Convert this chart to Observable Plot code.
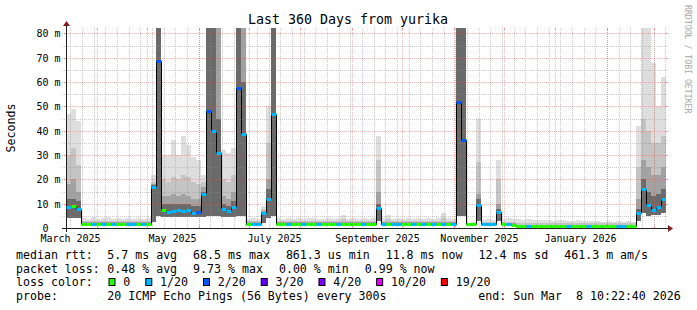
<!DOCTYPE html>
<html><head><meta charset="utf-8">
<script src="https://cdn.jsdelivr.net/npm/d3@7"></script>
<script src="https://cdn.jsdelivr.net/npm/@observablehq/plot@0.6"></script>
<style>
html,body{margin:0;padding:0;background:#fff;}
#chart{width:697px;height:310px;position:relative;}
svg text{white-space:pre;}
</style></head><body><div id="chart"></div>
<script>
// ---------- data ----------
const chartTitle = "Last 360 Days from yurika";
const yTitle = "Seconds";
const watermark = "RRDTOOL / TOBI OETIKER";
const startTime = new Date(Date.UTC(2025, 2, 13, 10, 22, 40));
const endTime = new Date(Date.UTC(2026, 2, 8, 10, 22, 40));
const stepDays = 3;
const yMax = 82.26;

const median = [
  8.8, 9.2, 8.0, 1.8, 1.8, 1.7, 1.8, 1.8, 1.7, 1.8,
  1.8, 1.7, 1.8, 1.8, 1.7, 1.8, 1.8, 17, 68.5, 7.4,
  6.5, 7.0, 7.3, 6.8, 7.4, 6.2, 6.5, 14, 48, 40,
  31, 8.0, 6.8, 8.5, 57.7, 38.7, 1.8, 1.7, 1.7, 6.0,
  12, 47, 1.8, 1.8, 1.7, 1.8, 1.8, 1.7, 1.8, 1.8,
  1.7, 1.8, 1.8, 1.8, 1.7, 1.8, 1.8, 1.8, 1.8, 1.7,
  1.8, 1.8, 8.2, 1.7, 1.8, 1.7, 1.7, 1.8, 1.8, 1.7,
  1.8, 1.7, 1.8, 1.7, 1.8, 1.7, 1.8, 1.7, 52, 36,
  1.6, 1.6, 9.5, 1.6, 1.6, 1.6, 6.6, 1.5, 1.5, 1.4,
  0.8, 0.8, 0.8, 0.8, 0.8, 0.8, 0.8, 0.8, 0.8, 0.8,
  0.8, 0.8, 0.8, 0.8, 0.8, 0.8, 0.8, 0.8, 0.8, 0.8,
  0.8, 0.8, 0.8, 0.8, 6.0, 16, 9.5, 7.3, 8.5, 12
];
const loss = [
  1,0,1,0,0,1,0,1,0,1,
  0,0,1,1,0,1,0,1,2,0,
  1,1,1,1,1,1,2,1,2,1,
  1,1,1,1,2,1,0,1,1,1,
  1,1,0,0,1,0,0,1,0,0,
  1,0,0,0,1,0,0,0,0,1,
  0,0,1,1,0,1,1,0,0,1,
  0,1,0,1,0,1,0,1,2,2,
  0,0,1,1,1,1,1,0,1,0,
  0,0,1,0,0,0,0,0,0,0,
  1,0,0,0,1,0,0,0,0,0,
  1,1,0,0,1,1,1,1,1,1
];
const smokeLo = [
  4, 4, 4, 1.3, 1.3, 1.3, 1.3, 1.3, 1.3, 1.3,
  1.3, 1.3, 1.3, 1.3, 1.3, 1.3, 1.3, 2.5, 5, 4.5,
  4.5, 4.5, 4.5, 4.5, 4.5, 4.5, 4.5, 4.5, 5, 5,
  5, 4.5, 4.5, 4.5, 5, 5, 1.3, 1.3, 1.3, 2.0,
  4, 5, 1.3, 1.3, 1.3, 1.3, 1.3, 1.3, 1.3, 1.3,
  1.3, 1.3, 1.3, 1.3, 1.3, 1.3, 1.3, 1.3, 1.3, 1.3,
  1.3, 1.3, 3, 1.3, 1.3, 1.3, 1.3, 1.3, 1.3, 1.3,
  1.3, 1.3, 1.3, 1.3, 1.3, 1.3, 1.3, 1.3, 5, 5,
  1.2, 1.2, 3, 1.2, 1.2, 1.2, 3, 1.1, 1.1, 1.0,
  0.5, 0.5, 0.5, 0.5, 0.5, 0.5, 0.5, 0.5, 0.5, 0.5,
  0.5, 0.5, 0.5, 0.5, 0.5, 0.5, 0.5, 0.5, 0.5, 0.5,
  0.5, 0.5, 0.5, 0.5, 3, 6, 5, 5.5, 5.5, 6
];
const smokeMax = [
  47, 49, 44, 4.2, 3.6, 4.4, 3.8, 4.0, 4.5, 3.8,
  4.2, 3.7, 4.3, 3.9, 4.1, 3.8, 4.0, 22, 100, 30,
  30, 36, 30, 38, 34, 29, 28, 22, 100, 100,
  100, 32, 31, 33, 100, 100, 3.8, 4.0, 3.6, 9,
  50, 100, 4.0, 3.7, 4.2, 3.9, 4.1, 3.6, 4.0, 4.3,
  3.8, 3.9, 4.2, 3.7, 4.0, 5.3, 3.9, 4.1, 3.8, 4.2,
  3.9, 4.0, 38, 4.0, 5.3, 3.8, 4.1, 3.9, 4.2, 3.7,
  4.0, 3.8, 4.2, 3.9, 4.0, 6.3, 4.1, 3.9, 100, 100,
  2.2, 2.4, 45, 3.2, 3.6, 3.4, 28, 3.8, 4.0, 3.9,
  3.5, 3.3, 3.6, 3.2, 3.4, 3.1, 3.3, 3.0, 3.2, 3.1,
  3.0, 2.9, 3.2, 2.8, 3.0, 2.7, 2.8, 2.6, 2.9, 2.6,
  2.7, 2.5, 2.8, 2.6, 42, 100, 100, 68, 50, 62
];
const smokeOuter = [
  30, 33, 26, 2.8, 2.8, 2.8, 2.8, 2.8, 2.8, 2.8,
  2.8, 2.8, 2.8, 2.8, 2.8, 2.8, 2.8, 19, 100, 20,
  19, 21, 20, 22, 21, 19, 18, 19, 100, 100,
  100, 20, 19, 22, 100, 100, 2.8, 2.8, 2.8, 8,
  35, 100, 2.8, 2.8, 2.8, 2.8, 2.8, 2.8, 2.8, 2.8,
  2.8, 2.8, 2.8, 2.8, 2.8, 3.5, 2.8, 2.8, 2.8, 2.8,
  2.8, 2.8, 28, 2.8, 3.5, 2.8, 2.8, 2.8, 2.8, 2.8,
  2.8, 2.8, 2.8, 2.8, 2.8, 4.0, 2.8, 2.8, 100, 100,
  2.0, 2.0, 27, 2.6, 2.6, 2.6, 20, 2.6, 2.6, 2.5,
  2.0, 2.0, 2.0, 2.0, 2.0, 2.0, 2.0, 2.0, 2.0, 2.0,
  2.0, 2.0, 2.0, 2.0, 2.0, 2.0, 2.0, 2.0, 2.0, 2.0,
  2.0, 2.0, 2.0, 2.0, 25, 45, 40, 35, 35, 38
];
const smokeInner = [
  18, 20, 15, 2.3, 2.3, 2.3, 2.3, 2.3, 2.3, 2.3,
  2.3, 2.3, 2.3, 2.3, 2.3, 2.3, 2.3, 18, 100, 13,
  13, 14, 13, 14, 13, 12, 12, 17, 100, 100,
  100, 13, 12, 15, 100, 100, 2.3, 2.3, 2.3, 7,
  20, 100, 2.3, 2.3, 2.3, 2.3, 2.3, 2.3, 2.3, 2.3,
  2.3, 2.3, 2.3, 2.3, 2.3, 2.3, 2.3, 2.3, 2.3, 2.3,
  2.3, 2.3, 15, 2.3, 2.3, 2.3, 2.3, 2.3, 2.3, 2.3,
  2.3, 2.3, 2.3, 2.3, 2.3, 2.3, 2.3, 2.3, 100, 100,
  1.9, 1.9, 14, 2.1, 2.1, 2.1, 10, 2.0, 2.0, 1.9,
  1.4, 1.4, 1.4, 1.4, 1.4, 1.4, 1.4, 1.4, 1.4, 1.4,
  1.4, 1.4, 1.4, 1.4, 1.4, 1.4, 1.4, 1.4, 1.4, 1.4,
  1.4, 1.4, 1.4, 1.4, 12, 28, 25, 22, 22, 25
];
const smokeCore = [
  12, 12, 11, 2.1, 2.1, 2.1, 2.1, 2.1, 2.1, 2.1,
  2.1, 2.1, 2.1, 2.1, 2.1, 2.1, 2.1, 17.5, 100, 10,
  10, 10, 10, 10, 10, 9, 9, 15, 100, 100,
  45, 10, 9, 11, 100, 60, 2.1, 2.1, 2.1, 6.5,
  16, 100, 2.1, 2.1, 2.1, 2.1, 2.1, 2.1, 2.1, 2.1,
  2.1, 2.1, 2.1, 2.1, 2.1, 2.1, 2.1, 2.1, 2.1, 2.1,
  2.1, 2.1, 10, 2.1, 2.1, 2.1, 2.1, 2.1, 2.1, 2.1,
  2.1, 2.1, 2.1, 2.1, 2.1, 2.1, 2.1, 2.1, 100, 100,
  1.8, 1.8, 12, 1.8, 1.8, 1.8, 8, 1.7, 1.7, 1.6,
  1.1, 1.1, 1.1, 1.1, 1.1, 1.1, 1.1, 1.1, 1.1, 1.1,
  1.1, 1.1, 1.1, 1.1, 1.1, 1.1, 1.1, 1.1, 1.1, 1.1,
  1.1, 1.1, 1.1, 1.1, 8, 20, 15, 13, 14, 16
];

const lossLabels = ["0", "1/20", "2/20", "3/20", "4/20", "10/20", "19/20"];
const lossColors = ["#26ff00", "#00b8ff", "#0059ff", "#5e00ff", "#7e00ff", "#dd00ff", "#ff0000"];
const yTicks = [0, 10, 20, 30, 40, 50, 60, 70, 80];
const yTickLabels = ["0", "10 m", "20 m", "30 m", "40 m", "50 m", "60 m", "70 m", "80 m"];
const yMinor = [5, 15, 25, 35, 45, 55, 65, 75];
const xLabels = ["March 2025", "May 2025", "July 2025", "September 2025", "November 2025", "January 2026"];
const xLabelMonths = ["2025-03-01", "2025-05-01", "2025-07-01", "2025-09-01", "2025-11-01", "2026-01-01"];

const rttLabel = "median rtt:";
const rttStats = ["5.7 ms avg", "68.5 ms max", "861.3 us min", "11.8 ms now", "12.4 ms sd", "461.3 m am/s"];
const lossLabel = "packet loss:";
const lossStats = ["0.48 % avg", "9.73 % max", "0.00 % min", "0.99 % now"];
const colorLabel = "loss color:";
const probeLabel = "probe:";
const probeText = "20 ICMP Echo Pings (56 Bytes) every 300s";
const endText = "end: Sun Mar  8 10:22:40 2026";

// ---------- build ----------
const rows = median.map((m, i) => ({
  t: d3.utcDay.offset(startTime, i * stepDays),
  t2: d3.utcDay.offset(startTime, (i + 1) * stepDays),
  med: m, loss: loss[i], lo: smokeLo[i],
  s1: smokeMax[i], s2: smokeOuter[i], s3: smokeInner[i], s4: smokeCore[i]
}));
const linePts = rows.map(r => ({t: r.t, v: r.med})).concat([{t: rows[rows.length - 1].t2, v: rows[rows.length - 1].med}]);
const sundays = d3.utcSunday.range(startTime, endTime);
const months = d3.utcMonth.range(startTime, endTime);
const labelDates = xLabelMonths.map(s => d3.utcDay.offset(new Date(s + "T00:00:00Z"), 15));

const FONT = "'DejaVu Sans Mono', monospace";
const bands = [["s1", "#dedede"], ["s2", "#c4c4c4"], ["s3", "#a2a2a2"], ["s4", "#6a6a6a"]];
const GRID = "#8f8f8f", MGRID = "#de5050";

const plot = Plot.plot({
  width: 697, height: 310,
  marginLeft: 66, marginRight: 31, marginTop: 28, marginBottom: 82,
  style: {fontFamily: FONT, fontSize: "10px", background: "#fff", overflow: "visible", color: "#000"},
  x: {type: "utc", domain: [startTime, endTime], round: true, axis: null},
  y: {domain: [0, yMax], round: true, axis: null},
  marks: [
    ...bands.map(([k, c]) => Plot.rect(rows, {x1: "t", x2: "t2", y1: "lo", y2: k, fill: c, clip: true, inset: 0, shapeRendering: "crispEdges"})),
    Plot.ruleX(sundays, {stroke: GRID, strokeOpacity: 0.45, strokeDasharray: "1,1", insetBottom: -2}),
    Plot.ruleY(yMinor, {stroke: GRID, strokeOpacity: 0.45, strokeDasharray: "1,1", insetLeft: -4, insetRight: -2}),
    Plot.ruleX(months, {stroke: MGRID, strokeOpacity: 0.4, strokeDasharray: "1,1", insetBottom: -2}),
    Plot.ruleY(yTicks.filter(d => d > 0), {stroke: MGRID, strokeOpacity: 0.4, strokeDasharray: "1,1", insetLeft: -4, insetRight: -2}),
    Plot.ruleX(months, {stroke: MGRID, strokeOpacity: 0.5, insetTop: 198}),
    Plot.ruleX(months, {stroke: MGRID, strokeOpacity: 0.5, insetBottom: 198}),
    Plot.ruleY(yTicks.filter(d => d > 0), {stroke: MGRID, strokeOpacity: 0.5, insetLeft: -2, insetRight: 600}),
    Plot.ruleY(yTicks.filter(d => d > 0), {stroke: MGRID, strokeOpacity: 0.5, insetLeft: 600, insetRight: -2}),
    Plot.ruleY([0], {stroke: "#1f1f1f", insetLeft: -4, insetRight: -4}),
    Plot.ruleX([startTime], {stroke: "#1f1f1f", insetTop: -4, insetBottom: -4}),
    Plot.line(linePts, {x: "t", y: "v", curve: "step-after", stroke: "#000", strokeWidth: 1, clip: true}),
    Plot.link(rows, {x1: "t", x2: "t2", y1: "med", y2: "med", stroke: d => lossColors[d.loss], strokeWidth: 3, strokeLinecap: "butt", clip: true}),
    Plot.text(labelDates, {x: d => d, text: (d, i) => xLabels[i], frameAnchor: "bottom", lineAnchor: "bottom", dy: 13.5, fontSize: 10, fill: "#000"}),
    Plot.text(yTicks, {y: d => d, text: (d, i) => d === 0 ? yTickLabels[i] + "\u00a0\u00a0" : yTickLabels[i], frameAnchor: "left", textAnchor: "end", dx: -6, fontSize: 10, fill: "#000"})
  ]
});
document.getElementById("chart").appendChild(plot);

// ---------- decorations: arrows, titles, legend ----------
const svg = d3.select(plot);
const sx = plot.scale("x"), sy = plot.scale("y");
const x0 = sx.apply(startTime), x1 = sx.apply(endTime), y0 = sy.apply(0), yTop = sy.apply(yMax);
svg.append("polygon").attr("points", `${x1 + 2},${y0 - 3} ${x1 + 2},${y0 + 4} ${x1 + 7},${y0 + 0.5}`).attr("fill", "#801f1f");
svg.append("polygon").attr("points", `${x0 - 3},${yTop - 2} ${x0 + 4},${yTop - 2} ${x0 + 0.5},${yTop - 7}`).attr("fill", "#801f1f");

function txt(x, y, s, size, opts = {}) {
  const t = svg.append("text").attr("font-family", FONT)
    .attr("font-size", size).attr("fill", opts.fill || "#000").attr("xml:space", "preserve")
    .attr("text-anchor", opts.anchor || "start").text(s);
  if (opts.transform) t.attr("transform", opts.transform).attr("x", 0).attr("y", 0);
  else t.attr("x", x).attr("y", y);
  return t;
}
txt(348, 23.5, chartTitle, 13.3, {anchor: "middle"});
txt(0, 0, yTitle, 11.6, {anchor: "middle", transform: `translate(14.5,${(y0 + yTop) / 2}) rotate(-90)`});
txt(0, 0, watermark, 8.2, {fill: "#a8a8a8", transform: "translate(684.5,5) rotate(90)"});

const LX = 16, VX = 107.3, GAP = 16, FS = 11.6;
const rowY = [258.5, 272.5, 286.3, 300];
function statRow(y, label, items) {
  txt(LX, y, label, FS);
  let x = VX;
  items.forEach(s => { const t = txt(x, y, s, FS); x += t.node().getComputedTextLength() + GAP; });
}
statRow(rowY[0], rttLabel, rttStats);
statRow(rowY[1], lossLabel, lossStats);
txt(LX, rowY[2], colorLabel, FS);
{
  let x = 108.5;
  lossLabels.forEach((s, i) => {
    svg.append("rect").attr("x", x + 0.5).attr("y", rowY[2] - 7.8).attr("width", 6).attr("height", 7)
      .attr("fill", lossColors[i]).attr("stroke", "#000").attr("stroke-width", 1);
    const t = txt(x + 14.8, rowY[2], s, FS);
    x = x + 14.8 + t.node().getComputedTextLength() + 15;
  });
}
txt(LX, rowY[3], probeLabel, FS);
txt(VX, rowY[3], probeText, FS);
txt(478.3, rowY[3], endText, FS);
</script></body></html>
